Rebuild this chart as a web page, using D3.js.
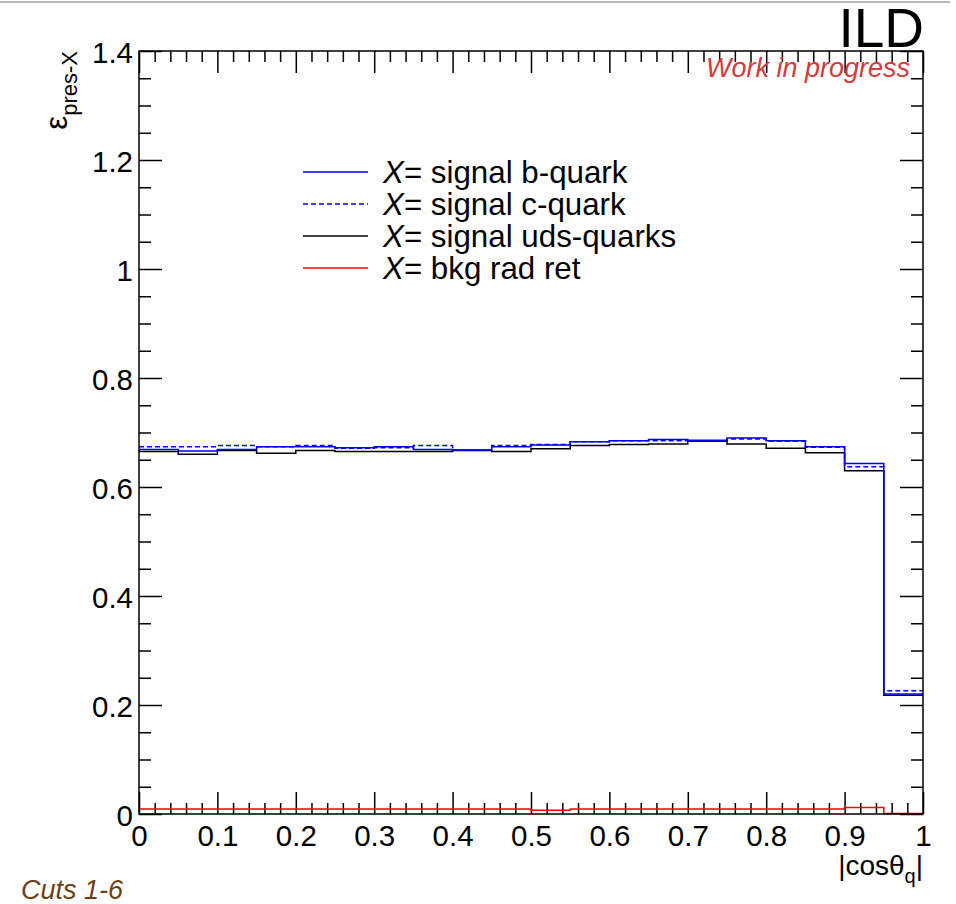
<!DOCTYPE html>
<html>
<head>
<meta charset="utf-8">
<script src="https://cdn.jsdelivr.net/npm/d3@7"></script>
<style>
  body { margin: 0; background: #fff; }
  svg { display: block; font-family: "Liberation Sans", Arial, Helvetica, sans-serif; }
</style>
</head>
<body>
<div class="chart"></div>
<script>
// bins of |cos theta_q| (lower edges, width 0.05)
const binLow = [0, 0.05, 0.1, 0.15, 0.2, 0.25, 0.3, 0.35, 0.4, 0.45,
                0.5, 0.55, 0.6, 0.65, 0.7, 0.75, 0.8, 0.85, 0.9, 0.95];
const binWidth = 0.05;

// preselection efficiencies per bin
const effB   = [0.669, 0.666, 0.669, 0.674, 0.674, 0.672, 0.674, 0.669, 0.668, 0.674,
                0.677, 0.683, 0.685, 0.687, 0.686, 0.690, 0.685, 0.674, 0.643, 0.220];
const effC   = [0.674, 0.674, 0.676, 0.674, 0.676, 0.671, 0.672, 0.676, 0.668, 0.676,
                0.678, 0.683, 0.685, 0.685, 0.685, 0.688, 0.684, 0.673, 0.637, 0.226];
const effUDS = [0.665, 0.660, 0.667, 0.662, 0.667, 0.665, 0.665, 0.665, 0.667, 0.665,
                0.670, 0.676, 0.678, 0.679, 0.684, 0.679, 0.671, 0.663, 0.630, 0.218];
const effBkg = [0.009, 0.009, 0.009, 0.009, 0.009, 0.009, 0.009, 0.009, 0.009, 0.009,
                0.007, 0.009, 0.009, 0.009, 0.009, 0.009, 0.009, 0.009, 0.012, 0.001];

const xTicks = [0, 0.1, 0.2, 0.3, 0.4, 0.5, 0.6, 0.7, 0.8, 0.9, 1];
const xTickLabels = ['0', '0.1', '0.2', '0.3', '0.4', '0.5', '0.6', '0.7', '0.8', '0.9', '1'];
const yTicks = [0, 0.2, 0.4, 0.6, 0.8, 1, 1.2, 1.4];
const yTickLabels = ['0', '0.2', '0.4', '0.6', '0.8', '1', '1.2', '1.4'];

const legendNames = ['signal b-quark', 'signal c-quark', 'signal uds-quarks', 'bkg rad ret'];

const W = 956, H = 904;
const L = 139, R = 923, T = 51, B = 814;

const svg = d3.select('.chart')
  .append('svg')
  .attr('width', W)
  .attr('height', H);

// grey strip at the top of the canvas
svg.append('line')
  .attr('x1', 0).attr('x2', 950)
  .attr('y1', 2).attr('y2', 2)
  .attr('stroke', '#a0a0a0')
  .attr('stroke-width', 1.5);

const x = d3.scaleLinear().domain([0, 1]).range([L, R]);
const y = d3.scaleLinear().domain([0, 1.4]).range([B, T]);

const xMinor = d3.range(0, 1.0001, 0.02).filter(v => Math.abs(v * 10 - Math.round(v * 10)) > 1e-6);
const yMinor = d3.range(0, 1.4001, 0.05).filter(v => Math.abs(v * 5 - Math.round(v * 5)) > 1e-6);

const tickStyle = g => {
  g.select('.domain').remove();
  g.selectAll('line').attr('stroke', '#000').attr('stroke-width', 1.5);
};

// bottom axis, ticks point inward
svg.append('g')
  .attr('transform', `translate(0,${B})`)
  .call(d3.axisBottom(x).tickValues(xMinor).tickSize(-11).tickFormat(''))
  .call(tickStyle);
const xAx = svg.append('g')
  .attr('transform', `translate(0,${B})`)
  .call(d3.axisBottom(x).tickValues(xTicks).tickSize(-22)
    .tickFormat((d, i) => xTickLabels[i]))
  .call(tickStyle);
xAx.selectAll('text')
  .attr('y', 32).attr('dy', null)
  .attr('font-size', 29.5).attr('fill', '#000')
  .attr('font-family', '"Liberation Sans", Arial, sans-serif');

// top axis
svg.append('g')
  .attr('transform', `translate(0,${T})`)
  .call(d3.axisTop(x).tickValues(xMinor).tickSize(-11).tickFormat(''))
  .call(tickStyle);
svg.append('g')
  .attr('transform', `translate(0,${T})`)
  .call(d3.axisTop(x).tickValues(xTicks).tickSize(-22).tickFormat(''))
  .call(tickStyle);

// left axis
svg.append('g')
  .attr('transform', `translate(${L},0)`)
  .call(d3.axisLeft(y).tickValues(yMinor).tickSize(-12).tickFormat(''))
  .call(tickStyle);
const yAx = svg.append('g')
  .attr('transform', `translate(${L},0)`)
  .call(d3.axisLeft(y).tickValues(yTicks).tickSize(-23)
    .tickFormat((d, i) => yTickLabels[i]))
  .call(tickStyle);
yAx.selectAll('text')
  .attr('x', -6).attr('dy', '0.4em')
  .attr('font-size', 29.5).attr('fill', '#000')
  .attr('font-family', '"Liberation Sans", Arial, sans-serif');

// right axis
svg.append('g')
  .attr('transform', `translate(${R},0)`)
  .call(d3.axisRight(y).tickValues(yMinor).tickSize(-12).tickFormat(''))
  .call(tickStyle);
svg.append('g')
  .attr('transform', `translate(${R},0)`)
  .call(d3.axisRight(y).tickValues(yTicks).tickSize(-23).tickFormat(''))
  .call(tickStyle);

// histograms drawn as steps
const stepLine = vals => {
  const pts = [];
  vals.forEach((v, i) => {
    pts.push([x(binLow[i]), y(v)]);
    pts.push([x(binLow[i] + binWidth), y(v)]);
  });
  return d3.line()(pts);
};

const series = [
  { vals: effUDS, color: '#000000', dash: null, legend: 2 },
  { vals: effB,   color: '#0000ff', dash: null, legend: 0 },
  { vals: effC,   color: '#0000ff', dash: '5,3', legend: 1 },
  { vals: effBkg, color: '#ff0000', dash: null, legend: 3 }
];

svg.selectAll('path.hist')
  .data(series)
  .enter()
  .append('path')
  .attr('class', 'hist')
  .attr('d', s => stepLine(s.vals))
  .attr('fill', 'none')
  .attr('stroke', s => s.color)
  .attr('stroke-width', 1.5)
  .attr('stroke-dasharray', s => s.dash);

// frame
svg.append('rect')
  .attr('x', L).attr('y', T)
  .attr('width', R - L).attr('height', B - T)
  .attr('fill', 'none')
  .attr('stroke', '#000')
  .attr('stroke-width', 1.5);

// legend
const legendY = [172, 204, 236, 268];
const leg = svg.selectAll('g.leg')
  .data(series.slice().sort((a, b) => a.legend - b.legend))
  .enter()
  .append('g')
  .attr('class', 'leg')
  .attr('transform', (d, i) => `translate(0,${legendY[i]})`);
leg.append('line')
  .attr('x1', 303).attr('x2', 368)
  .attr('stroke', d => d.color)
  .attr('stroke-width', 1.5)
  .attr('stroke-dasharray', d => d.dash);
const legText = leg.append('text')
  .attr('x', 383)
  .attr('dy', '0.36em')
  .attr('font-size', 31.3)
  .attr('fill', '#000');
legText.append('tspan').attr('font-style', 'italic').text('X');
legText.append('tspan').text(d => '= ' + legendNames[d.legend]);

// axis titles
const yTitle = svg.append('text')
  .attr('transform', 'translate(67,51) rotate(-90)')
  .attr('text-anchor', 'end')
  .attr('fill', '#000');
yTitle.append('tspan').attr('font-size', 31).text('ε');
yTitle.append('tspan').attr('font-size', 22).attr('dy', 10).text('pres-X');

const xTitle = svg.append('text')
  .attr('x', 923).attr('y', 875)
  .attr('text-anchor', 'end')
  .attr('font-size', 28)
  .attr('fill', '#000');
xTitle.append('tspan').text('|cosθ');
xTitle.append('tspan').attr('font-size', 20).attr('dy', 8).text('q');
xTitle.append('tspan').attr('dy', -8).text('|');

// labels
svg.append('text')
  .attr('x', 924).attr('y', 47)
  .attr('text-anchor', 'end')
  .attr('font-size', 55)
  .attr('fill', '#000')
  .text('ILD');

svg.append('text')
  .attr('x', 910).attr('y', 77)
  .attr('text-anchor', 'end')
  .attr('font-size', 27)
  .attr('font-style', 'italic')
  .attr('fill', '#d63a3a')
  .text('Work in progress');

svg.append('text')
  .attr('x', 21).attr('y', 899)
  .attr('font-size', 27)
  .attr('font-style', 'italic')
  .attr('fill', '#6e3f12')
  .text('Cuts 1-6');
</script>
</body>
</html>
